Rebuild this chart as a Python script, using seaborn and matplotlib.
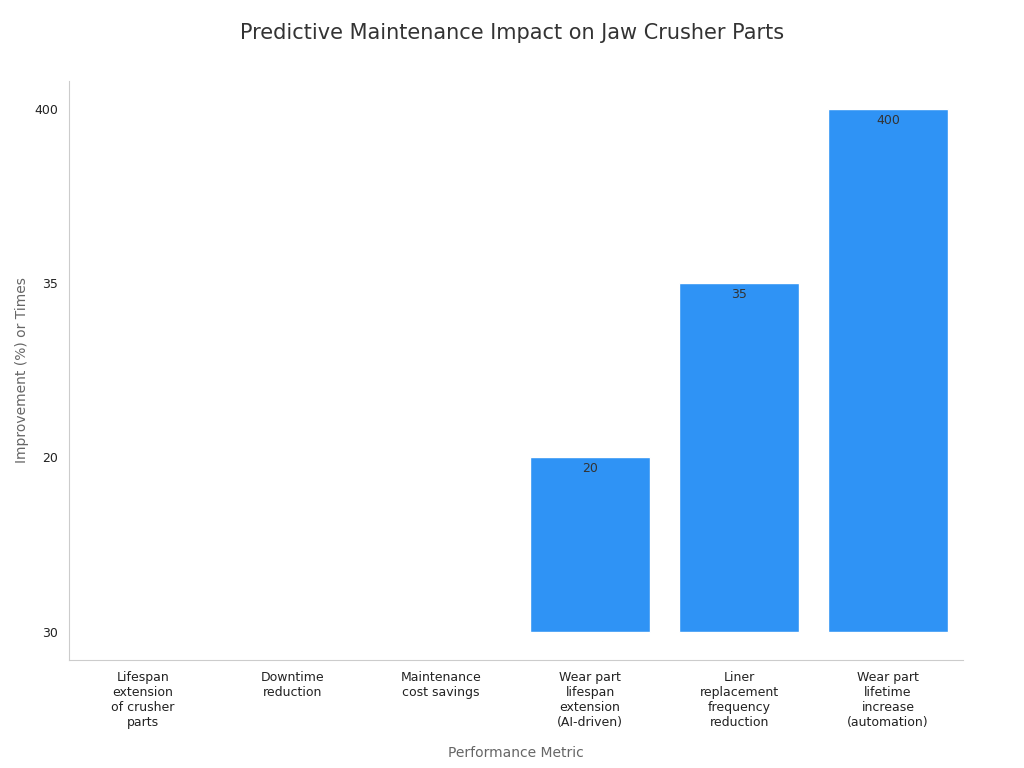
import matplotlib

matplotlib.use("Agg")
import matplotlib.pyplot as plt
import pandas as pd
import seaborn as sns

METRICS = [
    "Lifespan\nextension\nof crusher\nparts",
    "Downtime\nreduction",
    "Maintenance\ncost savings",
    "Wear part\nlifespan\nextension\n(AI-driven)",
    "Liner\nreplacement\nfrequency\nreduction",
    "Wear part\nlifetime\nincrease\n(automation)",
]
VALUES = [30, 30, 30, 20, 35, 400]

# the y axis is categorical: levels in order of first appearance
levels = list(dict.fromkeys(VALUES))
df = pd.DataFrame({"metric": METRICS, "value": VALUES})
df["pos"] = df["value"].map({v: i for i, v in enumerate(levels)})

sns.set_style("white")
fig, ax = plt.subplots(figsize=(10.24, 7.68), dpi=100)
fig.subplots_adjust(left=0.067, right=0.94, top=0.895, bottom=0.14)

sns.barplot(data=df, x="metric", y="pos", color="#2f93f5", saturation=1, width=0.8, ax=ax)

for i, row in df.iterrows():
    if row["pos"] > 0:
        ax.text(i, row["pos"] - 0.03, str(row["value"]), ha="center", va="top",
                fontsize=9, color="#333333")

ax.set_yticks(range(len(levels)))
ax.set_yticklabels([str(v) for v in levels])
ax.set_ylim(-0.166, 3.16)
ax.tick_params(axis="both", labelsize=9, colors="#222222", length=4)
ax.tick_params(axis="y", color="#999999")
ax.tick_params(axis="x", color="#999999")
for s in ["top", "right"]:
    ax.spines[s].set_visible(False)
for s in ["left", "bottom"]:
    ax.spines[s].set_color("#cccccc")

ax.set_xlabel("Performance Metric", fontsize=10, color="#666666", labelpad=12)
ax.set_ylabel("Improvement (%) or Times", fontsize=10, color="#666666")
fig.suptitle("Predictive Maintenance Impact on Jaw Crusher Parts", fontsize=15,
             color="#333333", y=0.97)

fig.savefig("out.png", dpi=100)
